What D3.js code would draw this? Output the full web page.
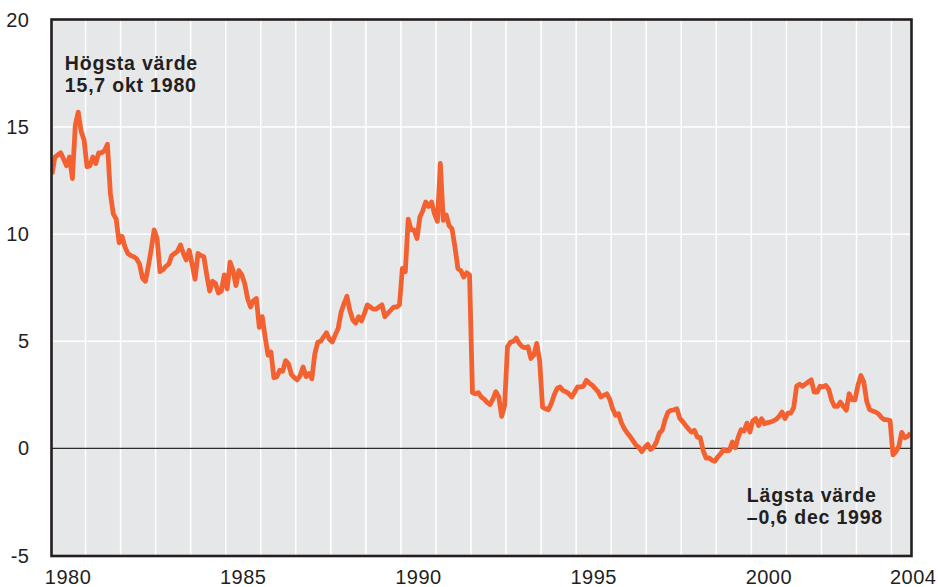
<!DOCTYPE html>
<html>
<head>
<meta charset="utf-8">
<script src="https://cdn.jsdelivr.net/npm/d3@7"></script>
<style>
  body { margin: 0; background: #fff; }
  text { font-family: "Liberation Sans", Arial, Helvetica, sans-serif; fill: #231f20; }
</style>
</head>
<body>
<svg id="chart"></svg>
<script>
// KPI, årlig förändring i procent, månadsvärden jan 1980 - jul 2004
var kpi1980_84 = [
  12.8, 13.6, 13.7, 13.8, 13.5, 13.2, 13.6, 12.6, 15.1, 15.7, 14.8, 14.4,
  13.15, 13.2, 13.6, 13.3, 13.8, 13.8, 13.9, 14.2, 11.9, 10.95, 10.7, 9.6,
  9.9, 9.4, 9.1, 9.0, 8.95, 8.85, 8.6, 7.95, 7.8, 8.5, 9.3, 10.2,
  9.8, 8.25, 8.35, 8.5, 8.6, 9.0, 9.1, 9.2, 9.5, 9.1, 8.8, 9.25,
  8.6, 7.9, 9.1, 9.0, 8.95, 8.1, 7.35, 7.8, 7.7, 7.25, 7.35, 8.1
]
var kpi1985_89 = [
  7.45, 8.7, 8.3, 7.6, 8.3, 8.1, 7.7, 7.0, 6.6, 6.9, 7.0, 5.65,
  6.15, 5.2, 4.35, 4.5, 3.3, 3.35, 3.65, 3.6, 4.1, 3.95, 3.45, 3.3,
  3.2, 3.4, 3.8, 3.35, 3.5, 3.25, 4.4, 4.95, 5.0, 5.2, 5.4, 5.1,
  4.97, 5.3, 5.6, 6.35, 6.75, 7.1, 6.45, 6.0, 5.85, 6.15, 5.95, 6.3,
  6.7, 6.6, 6.5, 6.5, 6.6, 6.7, 6.15, 6.3, 6.45, 6.6, 6.6, 6.7
]
var kpi1990_94 = [
  8.4, 8.25, 10.7, 10.2, 10.2, 9.8, 10.8, 11.1, 11.5, 11.3, 11.5, 10.95,
  10.6, 13.3, 10.65, 10.9, 10.4, 10.25, 9.4, 8.4, 8.3, 8.0, 8.2, 8.1,
  2.6, 2.55, 2.6, 2.4, 2.3, 2.15, 2.05, 2.3, 2.65, 2.4, 1.5, 2.0,
  4.75, 4.95, 5.0, 5.15, 4.9, 4.75, 4.7, 4.75, 4.2, 4.35, 4.9, 4.1,
  1.93, 1.85, 1.8, 2.1, 2.5, 2.8, 2.87, 2.7, 2.65, 2.55, 2.4, 2.63
]
var kpi1995_99 = [
  2.87, 2.87, 2.9, 3.18, 3.05, 2.95, 2.8, 2.65, 2.4, 2.48, 2.55, 2.3,
  1.85, 1.55, 1.62, 1.2, 0.92, 0.72, 0.55, 0.35, 0.15, 0.05, -0.15, 0.05,
  0.19, -0.05, 0.06, 0.3, 0.72, 0.85, 1.35, 1.7, 1.78, 1.8, 1.85, 1.4,
  1.25, 1.07, 0.9, 0.76, 0.84, 0.53, 0.5, -0.1, -0.45, -0.44, -0.55, -0.6,
  -0.4, -0.25, -0.06, -0.12, -0.09, 0.3, 0.03, 0.53, 0.87, 0.81, 1.18, 0.76
]
var kpi2000_04 = [
  1.28, 1.39, 1.07, 1.39, 1.15, 1.2, 1.23, 1.28, 1.35, 1.5, 1.7, 1.39,
  1.65, 1.65, 1.9, 2.9, 3.0, 2.9, 3.0, 3.1, 3.2, 2.63, 2.63, 2.9,
  2.87, 2.94, 2.75, 2.25, 1.96, 1.96, 2.16, 1.96, 1.78, 2.55, 2.27, 2.27,
  2.94, 3.4, 3.1, 2.2, 1.81, 1.75, 1.7, 1.62, 1.45, 1.34, 1.34, 1.3,
  -0.3, -0.15, 0.1, 0.75, 0.5, 0.55, 0.72
]
var startYear = 1980
var yTicks = [-5, 0, 5, 10, 15, 20]
var xLabelYears = [1980, 1985, 1990, 1995, 2000, 2004]
var notes = [
  { lines: ['Högsta värde', '15,7 okt 1980'], t: 1980.41, v: 17.65 },
  { lines: ['Lägsta värde', '\u20130,6 dec 1998'], t: 1999.87, v: -2.52 }
]

var width = 938, height = 587
// note: "top" is a reserved window property, so use plot* names
var plotL = 51.5, plotR = 911.5, plotT = 19.5, plotB = 556

var svg = d3.select('#chart').attr('width', width).attr('height', height)

var x = d3.scaleLinear().domain([1980, 2004.57]).range([50.5, plotR])
var y = d3.scaleLinear().domain([-5, 20]).range([555.5, 20])

var data = kpi1980_84.concat(kpi1985_89, kpi1990_94, kpi1995_99, kpi2000_04)
  .map(function(v, i){ return { t: startYear + (i + 0.5)/12, v: v } })

// plot background
svg.append('rect')
  .attr('x', plotL).attr('y', plotT)
  .attr('width', plotR-plotL).attr('height', plotB-plotT)
  .attr('fill', '#e6e7e9')

svg.append('defs').append('clipPath').attr('id', 'plotclip')
  .append('rect')
  .attr('x', plotL).attr('y', plotT)
  .attr('width', plotR-plotL).attr('height', plotB-plotT)

// white grid: one line per year, and every 5 units
svg.append('g')
  .selectAll('line').data(d3.range(1981, 2005))
  .enter().append('line')
  .attr('x1', function(d){ return x(d) }).attr('x2', function(d){ return x(d) })
  .attr('y1', plotT).attr('y2', plotB)
  .attr('stroke', '#fff').attr('stroke-width', 1.5)

svg.append('g')
  .selectAll('line').data([5, 10, 15])
  .enter().append('line')
  .attr('x1', plotL).attr('x2', plotR)
  .attr('y1', function(d){ return y(d) }).attr('y2', function(d){ return y(d) })
  .attr('stroke', '#fff').attr('stroke-width', 1.5)

// zero line
svg.append('line')
  .attr('x1', plotL).attr('x2', plotR)
  .attr('y1', y(0)).attr('y2', y(0))
  .attr('stroke', '#2b2b2b').attr('stroke-width', 1.3)

// series
var line = d3.line()
  .x(function(d){ return x(d.t) })
  .y(function(d){ return y(d.v) })

svg.append('path')
  .datum(data)
  .attr('clip-path', 'url(#plotclip)')
  .attr('d', line)
  .attr('fill', 'none')
  .attr('stroke', '#f36131')
  .attr('stroke-width', 4.8)
  .attr('stroke-linejoin', 'round')

// frame
svg.append('rect')
  .attr('x', plotL).attr('y', plotT)
  .attr('width', plotR-plotL).attr('height', plotB-plotT)
  .attr('fill', 'none')
  .attr('stroke', '#231f20').attr('stroke-width', 2.6)

// y labels
svg.append('g')
  .selectAll('text').data(yTicks)
  .enter().append('text')
  .attr('x', 29.5)
  .attr('y', function(d){ return y(d) + 7 })
  .attr('text-anchor', 'end')
  .style('font-size', '20px')
  .style('letter-spacing', '0.5px')
  .text(function(d){ return d })

// x labels, centred on the year
svg.append('g')
  .selectAll('text').data(xLabelYears)
  .enter().append('text')
  .attr('x', function(d){ return d == 2004 ? x(2004.62) : x(d + 0.5) })
  .attr('y', 584)
  .attr('text-anchor', 'middle')
  .style('font-size', '20px')
  .style('letter-spacing', '0.5px')
  .text(function(d){ return d })

// annotations, one text per row so the rows do not overlap
notes.forEach(function(n){
  n.lines.forEach(function(s, i){
    svg.append('text')
      .attr('x', x(n.t)).attr('y', y(n.v) + i*22)
      .style('font-size', '19.5px')
      .style('font-weight', 'bold')
      .style('letter-spacing', '0.8px')
      .text(s)
  })
})
</script>
</body>
</html>
